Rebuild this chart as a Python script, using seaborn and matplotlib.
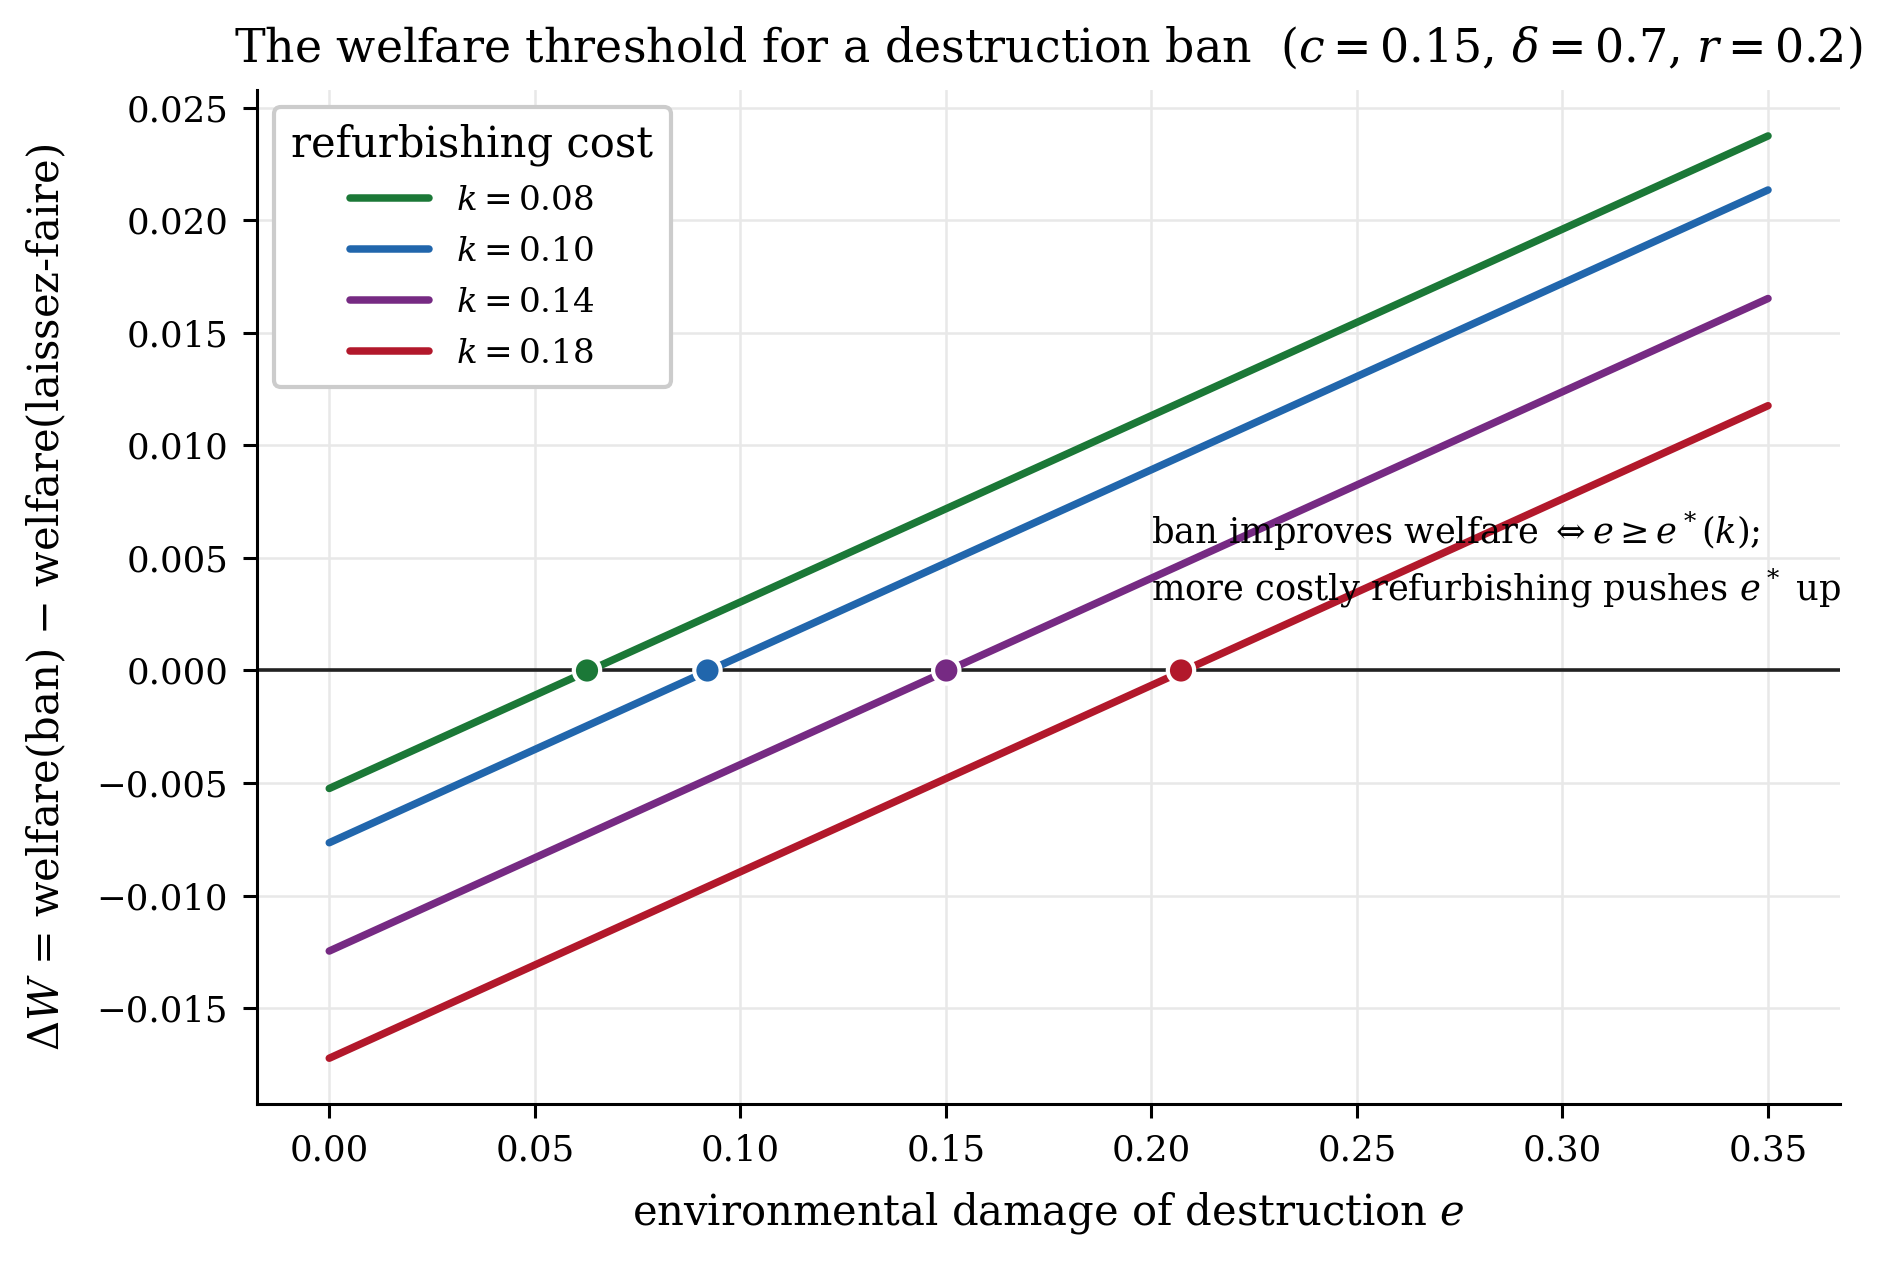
"""
Welfare threshold for a destruction ban
Delta W against environmental damage e, one line per refurbishing cost k
"""
import pandas as pd
import matplotlib
matplotlib.use("Agg")
import matplotlib.pyplot as plt
import seaborn as sns

# Data (straight lines, endpoints at e=0 and e=0.35)
k_values = [0.08, 0.10, 0.14, 0.18]
k_labels = ["$k=0.08$", "$k=0.10$", "$k=0.14$", "$k=0.18$"]
e_ends = [0.0, 0.35]
dW_start = [-0.00524, -0.00765, -0.01246, -0.01722]
dW_end = [0.02374, 0.02134, 0.01652, 0.01176]
e_star = [0.0627, 0.0920, 0.1501, 0.2072]
colors = ["#1b7837", "#2166ac", "#762a83", "#b2182b"]

# Style
sns.set_style("ticks")
plt.rcParams['font.family'] = ['DejaVu Serif']
plt.rcParams['mathtext.fontset'] = 'dejavuserif'
for key in ['text.color', 'axes.labelcolor', 'xtick.color', 'ytick.color', 'axes.edgecolor']:
    plt.rcParams[key] = 'black'


def build_frame():
    """Long table of the line endpoints"""
    rows = []
    for lab, y0, y1 in zip(k_labels, dW_start, dW_end):
        rows.append({"e": e_ends[0], "dW": y0, "k": lab})
        rows.append({"e": e_ends[1], "dW": y1, "k": lab})
    return pd.DataFrame(rows)


def main():
    df = build_frame()
    roots = pd.DataFrame({"e": e_star, "dW": [0.0] * len(e_star), "k": k_labels})
    palette = dict(zip(k_labels, colors))

    fig = plt.figure(figsize=(1892 / 200, 1265 / 200), dpi=200)
    ax = fig.add_axes([0.136, 0.127, 0.8365, 0.802])

    ax.grid(True, color="#e8e8e8", linewidth=0.9, zorder=0)
    ax.axhline(0, color="#222222", linewidth=1.3, zorder=2)

    sns.lineplot(data=df, x="e", y="dW", hue="k", palette=palette,
                 linewidth=2.7, ax=ax, zorder=3)
    sns.scatterplot(data=roots, x="e", y="dW", hue="k", palette=palette,
                    s=90, edgecolor="white", linewidth=1.5, legend=False,
                    ax=ax, zorder=4)

    ax.text(0.20, 0.0049,
            "ban improves welfare $\\Leftrightarrow e \\geq e^*(k)$;\n"
            "more costly refurbishing pushes $e^*$ up",
            fontsize=12.7, va="center", ha="left", linespacing=1.4, zorder=5)

    ax.set_xticks([0.0, 0.05, 0.10, 0.15, 0.20, 0.25, 0.30, 0.35])
    ax.set_xticklabels(["0.00", "0.05", "0.10", "0.15", "0.20", "0.25", "0.30", "0.35"])
    ax.set_yticks([-0.015, -0.010, -0.005, 0.0, 0.005, 0.010, 0.015, 0.020, 0.025])
    ax.set_yticklabels(["\u22120.015", "\u22120.010", "\u22120.005", "0.000", "0.005",
                        "0.010", "0.015", "0.020", "0.025"])
    ax.tick_params(labelsize=12.8, length=5, width=1.1, pad=5.5)
    for sp in ["left", "bottom"]:
        ax.spines[sp].set_linewidth(1.1)
    sns.despine(ax=ax)

    ax.set_xlabel("environmental damage of destruction $e$", fontsize=15, labelpad=8)
    ax.set_ylabel("$\\Delta W$ = welfare(ban) $-$ welfare(laissez-faire)", fontsize=15,
                  labelpad=10)
    ax.set_title("The welfare threshold for a destruction ban  "
                 "($c=0.15$, $\\delta=0.7$, $r=0.2$)", fontsize=16.5, pad=10)

    leg = ax.legend(title="refurbishing cost", loc="upper left", fontsize=12.3,
                    title_fontsize=15, frameon=True, fancybox=True, framealpha=1.0,
                    edgecolor="#cccccc", handlelength=2.3, borderpad=0.5,
                    labelspacing=0.55)
    leg.get_frame().set_linewidth(1.5)

    fig.savefig("out.png", dpi=200)
    plt.close(fig)


if __name__ == "__main__":
    main()
